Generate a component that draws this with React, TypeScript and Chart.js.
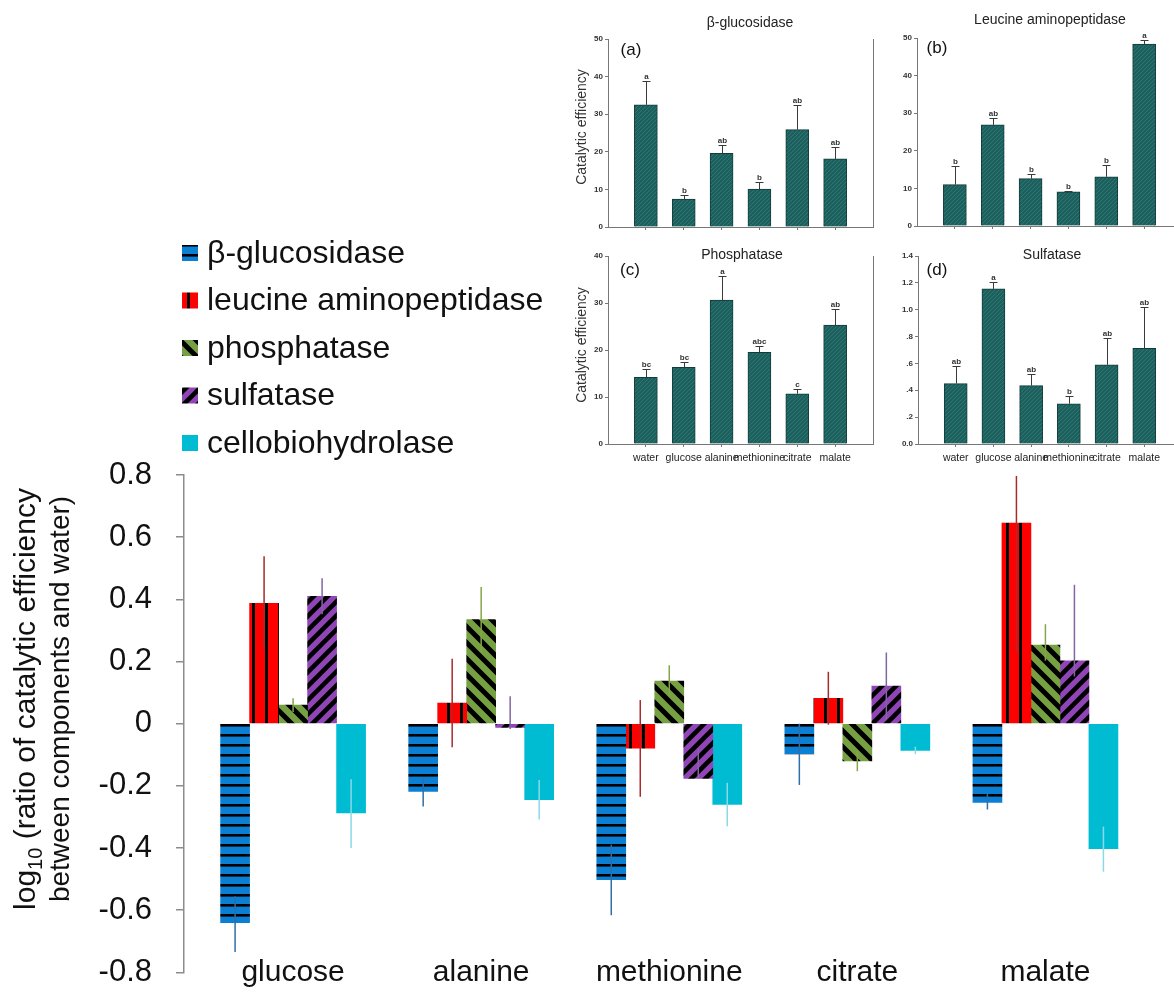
import React, { useEffect, useRef } from "react";
import { Chart, registerables } from "chart.js";

Chart.register(...registerables);

const FONT = "'Liberation Sans', Arial, Helvetica, sans-serif";

// ---------------- main chart data ----------------
const components = ["glucose", "alanine", "methionine", "citrate", "malate"];
const enzymes = ["β-glucosidase", "leucine aminopeptidase", "phosphatase", "sulfatase", "cellobiohydrolase"];

const glucosidaseLog = [-0.64, -0.218, -0.502, -0.097, -0.253];
const glucosidaseUp = [0.085, 0.044, 0.113, 0.097, 0.027];
const glucosidaseDown = [0.094, 0.048, 0.114, 0.1, 0.023];

const aminopeptidaseLog = [0.387, 0.066, -0.079, 0.082, 0.645];
const aminopeptidaseUp = [0.152, 0.143, 0.155, 0.085, 0.152];
const aminopeptidaseDown = [0.146, 0.142, 0.156, 0.085, 0.415];

const phosphataseLog = [0.06, 0.335, 0.137, -0.12, 0.253];
const phosphataseUp = [0.022, 0.105, 0.051, 0.033, 0.067];
const phosphataseDown = [0.022, 0.105, 0.05, 0.033, 0.05];

const sulfataseLog = [0.41, -0.012, -0.176, 0.121, 0.202];
const sulfataseUp = [0.058, 0.1, 0.096, 0.108, 0.245];
const sulfataseDown = [0.058, 0.005, 0, 0.108, 0.05];

const cellobiohydrolaseLog = [-0.287, -0.244, -0.26, -0.086, -0.402];
const cellobiohydrolaseUp = [0.108, 0.063, 0.07, 0.012, 0.071];
const cellobiohydrolaseDown = [0.113, 0.064, 0.07, 0.012, 0.074];

const mainYTicks = [-0.8, -0.6, -0.4, -0.2, 0, 0.2, 0.4, 0.6, 0.8];

// ---------------- inset data ----------------
const treatments = ["water", "glucose", "alanine", "methionine", "citrate", "malate"];

const glucosidaseEff = [32.5, 7.4, 19.6, 10.1, 25.9, 18.1];
const glucosidaseEffErr = [6.4, 1.2, 2.2, 1.8, 6.6, 3.3];
const glucosidaseLetters = ["a", "b", "ab", "b", "ab", "ab"];

const aminopeptidaseEff = [11.0, 26.9, 12.6, 9.1, 13.1, 48.4];
const aminopeptidaseEffErr = [5.0, 1.7, 1.2, 0.3, 3.0, 1.2];
const aminopeptidaseLetters = ["b", "ab", "b", "b", "b", "a"];

const phosphataseEff = [14.2, 16.3, 30.6, 19.5, 10.7, 25.3];
const phosphataseEffErr = [1.7, 1.1, 5.1, 1.3, 1.0, 3.5];
const phosphataseLetters = ["bc", "bc", "a", "abc", "c", "ab"];

const sulfataseEff = [0.45, 1.155, 0.435, 0.3, 0.59, 0.713];
const sulfataseEffErr = [0.131, 0.054, 0.084, 0.059, 0.201, 0.304];
const sulfataseLetters = ["ab", "a", "ab", "b", "ab", "ab"];

const effTicks50 = [0, 10, 20, 30, 40, 50];
const effTicks40 = [0, 10, 20, 30, 40];
const sulfTicks = [0, 0.2, 0.4, 0.6, 0.8, 1.0, 1.2, 1.4];

// ---------------- patterns ----------------
function tile(w: number, h: number, draw: (c: CanvasRenderingContext2D) => void) {
  const cv = document.createElement("canvas");
  cv.width = w;
  cv.height = h;
  const c = cv.getContext("2d")!;
  draw(c);
  return cv;
}

function makePatterns(ctx: CanvasRenderingContext2D) {
  const blue = tile(4, 10, (c) => {
    c.fillStyle = "#0b7fd3";
    c.fillRect(0, 0, 4, 10);
    c.fillStyle = "#000";
    c.fillRect(0, 4, 4, 2.6);
  });
  const red = tile(13, 4, (c) => {
    c.fillStyle = "#ff0000";
    c.fillRect(0, 0, 13, 4);
    c.fillStyle = "#000";
    c.fillRect(5, 0, 3, 4);
  });
  const diag = (color: string, s: number, w: number, back: boolean) =>
    tile(s, s, (c) => {
      c.fillStyle = color;
      c.fillRect(0, 0, s, s);
      c.strokeStyle = "#000";
      c.lineWidth = w;
      c.beginPath();
      for (let k = -1; k <= 1; k++) {
        if (back) {
          c.moveTo(k * s - 2, -2);
          c.lineTo(k * s + s + 2, s + 2);
        } else {
          c.moveTo(k * s - 2, s + 2);
          c.lineTo(k * s + s + 2, -2);
        }
      }
      c.stroke();
    });
  return [
    ctx.createPattern(blue, "repeat")!,
    ctx.createPattern(red, "repeat")!,
    ctx.createPattern(diag("#77a043", 16, 5, true), "repeat")!,
    ctx.createPattern(diag("#8f45b6", 14, 4.5, false), "repeat")!,
    "#00bcd3",
  ];
}

const errColors = ["#2f6ea6", "#a82a2a", "#86a64a", "#8166a3", "#8ad9e8"];

function buildMain(canvas: HTMLCanvasElement) {
  const ctx = canvas.getContext("2d")!;
  const fills = makePatterns(ctx);
  const series = [
    { v: glucosidaseLog, up: glucosidaseUp, down: glucosidaseDown },
    { v: aminopeptidaseLog, up: aminopeptidaseUp, down: aminopeptidaseDown },
    { v: phosphataseLog, up: phosphataseUp, down: phosphataseDown },
    { v: sulfataseLog, up: sulfataseUp, down: sulfataseDown },
    { v: cellobiohydrolaseLog, up: cellobiohydrolaseUp, down: cellobiohydrolaseDown },
  ];

  const decor = {
    id: "mainDecor",
    afterDatasetsDraw(chart: any) {
      const c = chart.ctx as CanvasRenderingContext2D;
      const y = chart.scales.y;
      c.save();
      series.forEach((s, di) => {
        const meta = chart.getDatasetMeta(di);
        c.strokeStyle = errColors[di];
        c.lineWidth = 1.5;
        meta.data.forEach((el: any, i: number) => {
          const top = y.getPixelForValue(s.v[i] + s.up[i]);
          const bot = y.getPixelForValue(s.v[i] - s.down[i]);
          c.beginPath();
          c.moveTo(el.x, top);
          c.lineTo(el.x, bot);
          c.stroke();
        });
      });
      c.restore();
    },
    afterDraw(chart: any) {
      const c = chart.ctx as CanvasRenderingContext2D;
      // category labels under the groups, at the x scale's tick positions
      const xs = chart.scales.x;
      c.save();
      c.fillStyle = "#111";
      c.font = `30px ${FONT}`;
      c.textAlign = "center";
      c.textBaseline = "alphabetic";
      components.forEach((name, i) => {
        c.fillText(name, xs.getPixelForValue(i), chart.chartArea.bottom + 9);
      });
      c.restore();
      // legend
      c.save();
      enzymes.forEach((name, i) => {
        const cy = 253 + i * 47.5;
        c.fillStyle = fills[i] as any;
        c.fillRect(182, cy - 8, 16, 16);
        c.fillStyle = "#111";
        c.font = `32px ${FONT}`;
        c.textAlign = "left";
        c.textBaseline = "middle";
        c.fillText(name, 207, cy + 1);
      });
      c.restore();
      // y title
      const big = `30px ${FONT}`;
      const small = `20px ${FONT}`;
      const parts = [
        { t: "log", f: big, dy: 0 },
        { t: "10", f: small, dy: 7 },
        { t: " (ratio of catalytic efficiency", f: big, dy: 0 },
      ];
      c.save();
      c.fillStyle = "#111";
      c.textBaseline = "alphabetic";
      c.textAlign = "left";
      let total = 0;
      const widths = parts.map((p) => {
        c.font = p.f;
        const w = c.measureText(p.t).width;
        total += w;
        return w;
      });
      c.translate(35, 699);
      c.rotate(-Math.PI / 2);
      let x = -total / 2;
      parts.forEach((p, i) => {
        c.font = p.f;
        c.fillText(p.t, x, p.dy);
        x += widths[i];
      });
      c.restore();
      c.save();
      c.fillStyle = "#111";
      c.font = `28px ${FONT}`;
      c.textAlign = "center";
      c.textBaseline = "alphabetic";
      c.translate(69, 699);
      c.rotate(-Math.PI / 2);
      c.fillText("between components and water)", 0, 0);
      c.restore();
    },
  };

  return new Chart(canvas, {
    type: "bar",
    data: {
      datasets: series.map((s, i) => ({
        label: enzymes[i],
        data: s.v.map((v, j) => ({ x: j, y: v })),
        backgroundColor: fills[i] as any,
        borderWidth: 0,
        barThickness: 29,
      })),
    },
    options: {
      animation: false,
      responsive: true,
      maintainAspectRatio: false,
      layout: { padding: { top: 475, right: 24, left: 0, bottom: 0 } },
      plugins: { legend: { display: false }, tooltip: { enabled: false }, title: { display: false } },
      scales: {
        x: {
          type: "linear",
          offset: false,
          min: -0.58,
          max: 4.556,
          afterBuildTicks: (s: any) => {
            s.ticks = components.map((_, i) => ({ value: i }));
          },
          afterFit: (s: any) => {
            s.height = 19;
          },
          ticks: { display: false },
          grid: { display: false, drawTicks: false, offset: false },
          border: { display: false },
        },
        y: {
          min: -0.8,
          max: 0.8,
          afterBuildTicks: (s: any) => {
            s.ticks = mainYTicks.map((v) => ({ value: v }));
          },
          afterFit: (s: any) => {
            s.width = 184;
          },
          ticks: {
            callback: (v: any) => {
              const r = Math.round(v * 10) / 10;
              return r === 0 ? "0" : r.toFixed(1);
            },
            font: { family: FONT, size: 31 },
            color: "#111",
            padding: 24,
          },
          grid: { drawOnChartArea: false, drawTicks: true, tickLength: 8, color: "#8c8c8c", lineWidth: 1.5 },
          border: { display: true, color: "#8c8c8c", width: 1.5 },
        },
      },
    },
    plugins: [decor],
  } as any);
}

interface InsetSpec {
  title: string;
  tag: string;
  values: number[];
  errors: number[];
  letters: string[];
  yTicks: number[];
  yFormat: (v: number) => string;
  showX: boolean;
  yTitle: boolean;
  rightBorder: boolean;
  yWidth: number;
  xHeight: number;
  padTop: number;
  padRight: number;
  titleX: number;
  titleY: number;
  tagX: number;
  tagY: number;
  yTitleY: number;
}

function makeTeal(ctx: CanvasRenderingContext2D) {
  const t = tile(4, 4, (c) => {
    c.fillStyle = "#1c5f5c";
    c.fillRect(0, 0, 4, 4);
    c.strokeStyle = "#2c7773";
    c.lineWidth = 1;
    c.beginPath();
    for (let k = -1; k <= 1; k++) {
      c.moveTo(k * 4 - 1, 5);
      c.lineTo(k * 4 + 5, -1);
    }
    c.stroke();
  });
  return ctx.createPattern(t, "repeat")!;
}

function buildInset(canvas: HTMLCanvasElement, spec: InsetSpec) {
  const ctx = canvas.getContext("2d")!;
  const teal = makeTeal(ctx);
  const decor = {
    id: "insetDecor",
    afterDatasetsDraw(chart: any) {
      const c = chart.ctx as CanvasRenderingContext2D;
      const y = chart.scales.y;
      const meta = chart.getDatasetMeta(0);
      c.save();
      c.strokeStyle = "#3a3a3a";
      c.lineWidth = 1;
      meta.data.forEach((el: any, i: number) => {
        const top = Math.round(y.getPixelForValue(spec.values[i] + spec.errors[i])) + 0.5;
        const x = Math.round(el.x) + 0.5;
        c.beginPath();
        c.moveTo(x, el.y);
        c.lineTo(x, top);
        c.moveTo(x - 4, top);
        c.lineTo(x + 4, top);
        c.stroke();
        c.fillStyle = "#333";
        c.font = `bold 8px ${FONT}`;
        c.textAlign = "center";
        c.textBaseline = "alphabetic";
        c.fillText(spec.letters[i], x, top - 3);
      });
      c.restore();
    },
    afterDraw(chart: any) {
      const c = chart.ctx as CanvasRenderingContext2D;
      const a = chart.chartArea;
      c.save();
      c.fillStyle = "#222";
      c.textAlign = "center";
      c.textBaseline = "middle";
      c.font = `14px ${FONT}`;
      c.fillText(spec.title, spec.titleX, spec.titleY);
      c.fillStyle = "#111";
      c.font = `17px ${FONT}`;
      c.fillText(spec.tag, spec.tagX, spec.tagY);
      if (spec.yTitle) {
        c.save();
        c.fillStyle = "#333";
        c.font = `14px ${FONT}`;
        c.translate(22, spec.yTitleY);
        c.rotate(-Math.PI / 2);
        c.fillText("Catalytic efficiency", 0, 0);
        c.restore();
      }
      if (spec.rightBorder) {
        c.strokeStyle = "#777";
        c.lineWidth = 1;
        const x = Math.round(a.right) + 0.5;
        c.beginPath();
        c.moveTo(x, a.top);
        c.lineTo(x, a.bottom);
        c.stroke();
      }
      c.restore();
    },
  };

  return new Chart(canvas, {
    type: "bar",
    data: {
      datasets: [
        {
          data: spec.values.map((v, i) => ({ x: i, y: v })),
          backgroundColor: teal as any,
          borderColor: "#123c3a",
          borderWidth: 1,
          barThickness: 23,
        },
      ],
    },
    options: {
      animation: false,
      responsive: true,
      maintainAspectRatio: false,
      layout: { padding: { top: spec.padTop, right: spec.padRight, left: 0, bottom: 0 } },
      plugins: { legend: { display: false }, tooltip: { enabled: false }, title: { display: false } },
      scales: {
        x: {
          type: "linear",
          offset: false,
          min: -1,
          max: 6,
          afterBuildTicks: (s: any) => {
            s.ticks = treatments.map((_, i) => ({ value: i }));
          },
          afterFit: (s: any) => {
            s.height = spec.xHeight;
          },
          ticks: {
            display: spec.showX,
            callback: (v: any) => treatments[v] ?? "",
            font: { family: FONT, size: 10.5 },
            color: "#222",
            padding: 5,
            autoSkip: false,
            maxRotation: 0,
            minRotation: 0,
          },
          grid: { drawOnChartArea: false, drawTicks: true, tickLength: 3, color: "#777", offset: false },
          border: { display: true, color: "#777" },
        },
        y: {
          min: 0,
          max: spec.yTicks[spec.yTicks.length - 1],
          afterBuildTicks: (s: any) => {
            s.ticks = spec.yTicks.map((v) => ({ value: v }));
          },
          afterFit: (s: any) => {
            s.width = spec.yWidth;
          },
          ticks: {
            callback: (v: any) => spec.yFormat(v),
            font: { family: FONT, size: 8, weight: "bold" },
            color: "#333",
            padding: 2,
          },
          grid: { drawOnChartArea: false, drawTicks: true, tickLength: 3, color: "#777" },
          border: { display: true, color: "#777" },
        },
      },
    },
    plugins: [decor],
  } as any);
}

const intFmt = (v: number) => String(Math.round(v));
const sulfFmt = (v: number) => {
  const r = Math.round(v * 10) / 10;
  if (r === 0) return "0.0";
  if (r < 1) return "." + Math.round(r * 10);
  return r.toFixed(1);
};

const panelA: InsetSpec = {
  title: "β-glucosidase", tag: "(a)", values: glucosidaseEff, errors: glucosidaseEffErr, letters: glucosidaseLetters,
  yTicks: effTicks50, yFormat: intFmt, showX: false, yTitle: true, rightBorder: true,
  yWidth: 48, xHeight: 13, padTop: 39, padRight: 7, titleX: 190, titleY: 23, tagX: 71, tagY: 50, yTitleY: 127,
};
const panelB: InsetSpec = {
  title: "Leucine aminopeptidase", tag: "(b)", values: aminopeptidaseEff, errors: aminopeptidaseEffErr, letters: aminopeptidaseLetters,
  yTicks: effTicks50, yFormat: intFmt, showX: false, yTitle: false, rightBorder: false,
  yWidth: 39, xHeight: 14, padTop: 38, padRight: 6, titleX: 172, titleY: 20, tagX: 59, tagY: 48, yTitleY: 0,
};
const panelC: InsetSpec = {
  title: "Phosphatase", tag: "(c)", values: phosphataseEff, errors: phosphataseEffErr, letters: phosphataseLetters,
  yTicks: effTicks40, yFormat: intFmt, showX: true, yTitle: true, rightBorder: true,
  yWidth: 48, xHeight: 36, padTop: 21, padRight: 7, titleX: 182, titleY: 20, tagX: 70, tagY: 35, yTitleY: 110,
};
const panelD: InsetSpec = {
  title: "Sulfatase", tag: "(d)", values: sulfataseEff, errors: sulfataseEffErr, letters: sulfataseLetters,
  yTicks: sulfTicks, yFormat: sulfFmt, showX: true, yTitle: false, rightBorder: false,
  yWidth: 40, xHeight: 36, padTop: 21, padRight: 6, titleX: 174, titleY: 20, tagX: 59, tagY: 35, yTitleY: 0,
};

export default function App() {
  const mainRef = useRef<HTMLCanvasElement>(null);
  const aRef = useRef<HTMLCanvasElement>(null);
  const bRef = useRef<HTMLCanvasElement>(null);
  const cRef = useRef<HTMLCanvasElement>(null);
  const dRef = useRef<HTMLCanvasElement>(null);

  useEffect(() => {
    const charts: Chart[] = [];
    charts.push(buildMain(mainRef.current!));
    charts.push(buildInset(aRef.current!, panelA));
    charts.push(buildInset(bRef.current!, panelB));
    charts.push(buildInset(cRef.current!, panelC));
    charts.push(buildInset(dRef.current!, panelD));
    return () => charts.forEach((c) => c.destroy());
  }, []);

  const box = (l: number, t: number, w: number, h: number): React.CSSProperties => ({
    position: "absolute", left: l, top: t, width: w, height: h,
  });

  return (
    <div style={{ position: "absolute", left: 0, top: 0, width: 1174, height: 992, overflow: "hidden", background: "#fff" }}>
      <div style={box(0, 0, 1174, 1015)}><canvas ref={mainRef} /></div>
      <div style={box(560, 0, 320, 240)}><canvas ref={aRef} /></div>
      <div style={box(878, 0, 310, 240)}><canvas ref={bRef} /></div>
      <div style={box(560, 235, 320, 245)}><canvas ref={cRef} /></div>
      <div style={box(878, 235, 310, 245)}><canvas ref={dRef} /></div>
    </div>
  );
}
